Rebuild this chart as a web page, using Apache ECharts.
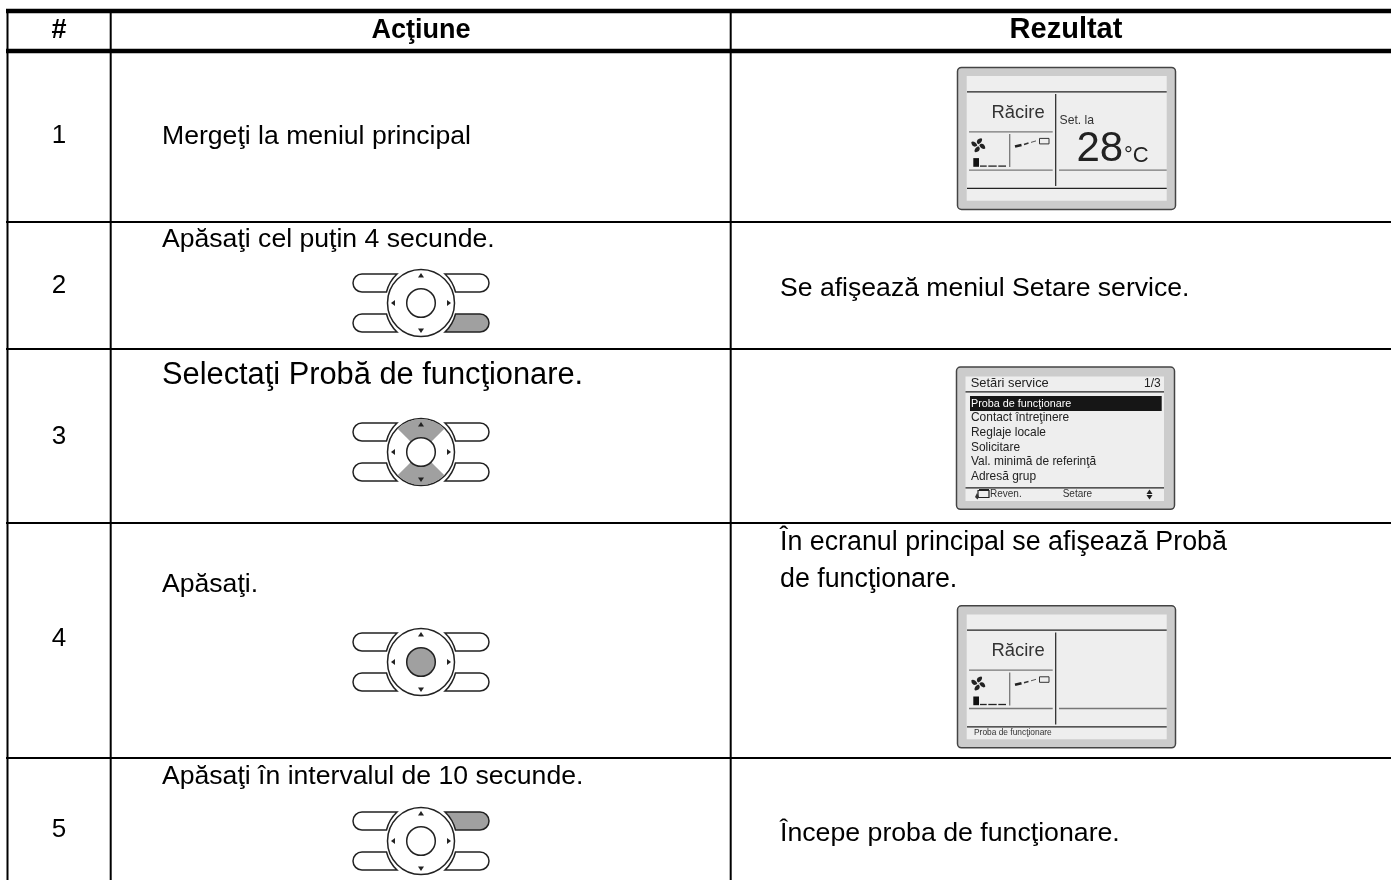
<!DOCTYPE html>
<html><head><meta charset="utf-8">
<style>html,body{margin:0;padding:0;background:#fff}#c{width:1391px;height:880px}</style>
<script src="https://cdn.jsdelivr.net/npm/echarts@6/dist/echarts.min.js"></script>
</head><body><div id="c"></div>
<script>
const columnHeaders = ['#', 'Acţiune', 'Rezultat'];
const rowNumbers = ['1', '2', '3', '4', '5'];
const actionTexts = ['Mergeţi la meniul principal', 'Apăsaţi cel puţin 4 secunde.', 'Selectaţi Probă de funcţionare.', 'Apăsaţi.', 'Apăsaţi în intervalul de 10 secunde.'];
const resultTexts = ['Se afişează meniul Setare service.', 'În ecranul principal se afişează Probă', 'de funcţionare.', 'Începe proba de funcţionare.'];
const screenModeText = 'Răcire';
const screenSetText = 'Set. la';
const screenTemp = '28';
const screenUnit = '°C';
const menuTitle = 'Setări service';
const menuPage = '1/3';
const menuItems = ['Proba de funcţionare', 'Contact întreţinere', 'Reglaje locale', 'Solicitare', 'Val. minimă de referinţă', 'Adresă grup'];
const menuFooter = ['Reven.', 'Setare'];
const statusText = 'Proba de funcţionare';

const FONT = '"Liberation Sans", Arial, sans-serif';
const els = [];
let pathCount = 0;
function T(text, x, y, size, o) {
  o = o || {};
  return { type: 'text', silent: true, style: { x: x, y: y - size * 0.35, text: text, fill: o.fill || '#000',
    font: (o.bold ? 'bold ' : '') + size + 'px ' + FONT, textAlign: o.align || 'left', textVerticalAlign: 'middle', verticalAlign: 'middle' } };
}
function L(x1, y1, x2, y2, w, c) {
  return { type: 'line', silent: true, shape: { x1, y1, x2, y2 }, style: { stroke: c || '#000', lineWidth: w } };
}
function R(x, y, w, h, fill, o) {
  o = o || {};
  return { type: 'rect', silent: true, shape: { x, y, width: w, height: h, r: o.r || 0 }, style: { fill, stroke: o.stroke || null, lineWidth: o.lw || 0 } };
}
function P(d, fill, stroke, lw, extra) {
  const name = 'svgPath' + (pathCount++);
  echarts.graphic.registerShape(name, echarts.graphic.extendPath(d, {}));
  return Object.assign({ type: name, silent: true, style: { fill: fill || 'none', stroke: stroke || null, lineWidth: lw || 0 } }, extra || {});
}

// ---- table rules
const TL = 7, TR = 1391;
[[11, 4.5], [51, 4.5], [222, 2], [349, 2], [523, 2], [758, 2]].forEach(r => els.push(L(TL - 1, r[0], TR, r[0], r[1])));
[7.5, 110.7, 730.7].forEach(x => els.push(L(x, 9, x, 880, 2)));

// ---- header
const headerX = [59, 421, 1066];
const headerSize = [27, 27, 29];
columnHeaders.forEach((h, i) => els.push(T(h, headerX[i], 40, headerSize[i], { bold: true, align: 'center' })));

// ---- numbers
const numY = [145, 295, 446, 648, 839];
rowNumbers.forEach((n, i) => els.push(T(n, 59, numY[i], 26, { align: 'center' })));

// ---- actions
const actY = [146, 249, 386, 594, 786], actSize = [26.6, 26.6, 30.8, 26.6, 26.6];
actionTexts.forEach((a, i) => els.push(T(a, 162, actY[i], actSize[i])));

// ---- results
const resY = [298, 552, 589, 843], resSize = [26.6, 26.8, 26.8, 26.7];
resultTexts.forEach((a, i) => els.push(T(a, 780, resY[i], resSize[i])));

// ---- keypad
function pol(r, deg) { const a = deg * Math.PI / 180; return (r * Math.cos(a)).toFixed(2) + ' ' + (r * Math.sin(a)).toFixed(2); }
function keypad(cy, hi) {
  const ch = [];
  const btn = (sx, sy, on) => {
    const X = v => v * sx, Y = v => v * sy;
    const swTop = (sx * sy > 0) ? 1 : 0;
    const swEnd = (sx * sy > 0) ? 0 : 1;
    const d = 'M' + X(-24) + ' ' + Y(-29) + ' L' + X(-59) + ' ' + Y(-29) +
      ' A9 9 0 0 ' + swEnd + ' ' + X(-59) + ' ' + Y(-11) + ' L' + X(-34.5) + ' ' + Y(-11) +
      ' A37 37 0 0 ' + swTop + ' ' + X(-24) + ' ' + Y(-29) + ' Z';
    ch.push(P(d, on ? '#a0a0a0' : '#fff', '#222', 1.5));
  };
  btn(1, 1, false);
  btn(-1, 1, hi === 'ur');
  btn(1, -1, false);
  btn(-1, -1, hi === 'lr');
  ch.push({ type: 'circle', silent: true, shape: { cx: 0, cy: 0, r: 33.5 }, style: { fill: '#fff', stroke: '#222', lineWidth: 1.5 } });
  if (hi === 'ud') {
    [[225, 315], [45, 135]].forEach(s => {
      const d = 'M' + pol(33, s[0]) + ' A33 33 0 0 1 ' + pol(33, s[1]) + ' L' + pol(14.5, s[1]) + ' A14.5 14.5 0 0 0 ' + pol(14.5, s[0]) + ' Z';
      ch.push(P(d, '#a0a0a0'));
    });
  }
  ch.push({ type: 'circle', silent: true, shape: { cx: 0, cy: 0, r: 14.3 }, style: { fill: hi === 'c' ? '#a0a0a0' : '#fff', stroke: '#222', lineWidth: 1.5 } });
  ch.push(P('M0 -30 L3 -25.5 L-3 -25.5 Z', '#222'));
  ch.push(P('M0 30 L3 25.5 L-3 25.5 Z', '#222'));
  ch.push(P('M-30 0 L-26 -3 L-26 3 Z', '#222'));
  ch.push(P('M30 0 L26 -3 L26 3 Z', '#222'));
  return { type: 'group', x: 421, y: cy, silent: true, children: ch };
}
els.push(keypad(303, 'lr'), keypad(452, 'ud'), keypad(662, 'c'), keypad(841, 'ur'));

// ---- mode screen
function modeScreen(y0, full) {
  const c = [];
  c.push(R(957.5, y0, 218, 142, '#cccccc', { r: 4, stroke: '#444', lw: 1.5 }));
  c.push(R(966.7, y0 + 8.7, 200, 124.7, '#eeeeee'));
  c.push(L(967, y0 + 24.4, 1166.7, y0 + 24.4, 1.2, '#222'));
  c.push(L(967, y0 + 121, 1166.7, y0 + 121, 1.2, '#222'));
  c.push(L(1055.7, y0 + 26.7, 1055.7, y0 + 118.7, 1.2, '#222'));
  c.push(L(969, y0 + 64.4, 1052.7, y0 + 64.4, 1.3, '#777'));
  c.push(L(969, y0 + 102.7, 1052.7, y0 + 102.7, 1.3, '#777'));
  c.push(L(1059, y0 + 102.7, 1166.7, y0 + 102.7, 1.3, '#777'));
  c.push(L(1009.7, y0 + 66.7, 1009.7, y0 + 99.7, 1.3, '#777'));
  c.push(T(screenModeText, 1044.7, y0 + 52, 18.4, { fill: '#333', align: 'right' }));
  // fan
  const fan = [];
  [0, 90, 180, 270].forEach(a => {
    fan.push(P('M0 -1 C-3 -3 -1 -7 3 -7 C5 -6 3 -2 0 -1 Z', '#222', null, 0, { rotation: a * Math.PI / 180 }));
  });
  c.push({ type: 'group', x: 978.3, y: y0 + 77.8, silent: true, children: fan });
  // level bar
  c.push(R(973.3, y0 + 90.7, 5.7, 8.7, '#111'));
  [[980, 986.7], [988.3, 996.7], [998.3, 1006]].forEach(s => c.push(L(s[0], y0 + 98.7, s[1], y0 + 98.7, 1.3, '#222')));
  // airflow
  c.push(L(1015, y0 + 79, 1021.5, y0 + 77.5, 2.6, '#222'));
  c.push(L(1024, y0 + 77, 1028.5, y0 + 75.7, 1.6, '#333'));
  c.push(L(1031, y0 + 75, 1036, y0 + 73.5, 1, '#555'));
  c.push(R(1039.5, y0 + 71, 9.5, 5.5, '#eeeeee', { stroke: '#333', lw: 1 }));
  if (full) {
    c.push(T(screenSetText, 1059.5, y0 + 57.7, 12.2, { fill: '#333' }));
    c.push(T(screenTemp, 1076.5, y0 + 96.7, 42, { fill: '#222' }));
    c.push(T(screenUnit, 1124, y0 + 96.7, 22, { fill: '#222' }));
  } else {
    c.push(T(statusText, 974, y0 + 130.3, 8.4, { fill: '#333' }));
  }
  return c;
}
els.push(...modeScreen(67.4, true));
els.push(...modeScreen(605.8, false));

// ---- menu screen
els.push(R(956.5, 367, 218, 142.3, '#cccccc', { r: 4, stroke: '#444', lw: 1.5 }));
els.push(R(965.5, 376.5, 198.5, 124.5, '#eeeeee'));
els.push(T(menuTitle, 970.7, 388.3, 12.9, { fill: '#222' }));
els.push(T(menuPage, 1160.7, 388.3, 12, { fill: '#222', align: 'right' }));
els.push(L(965.5, 391.8, 1164, 391.8, 1.2, '#222'));
els.push(R(970, 396, 191.7, 15, '#161616'));
const menuY = [407.8, 422.3, 436.8, 451.7, 466, 481];
menuItems.forEach((m, i) => els.push(T(m, 971, menuY[i], i === 0 ? 10.8 : 11.95, { fill: i === 0 ? '#fff' : '#222' })));
els.push(L(965.5, 487.8, 1164, 487.8, 1.2, '#222'));
els.push(T(menuFooter[0], 990, 497.7, 10, { fill: '#333' }));
els.push(T(menuFooter[1], 1062.7, 497.7, 10, { fill: '#333' }));
els.push(R(978, 490.5, 11, 7, '#eeeeee', { stroke: '#222', lw: 1.2 }));
els.push(L(979, 490, 989, 490, 2, '#222'));
els.push(P('M975 497 L977 493 L979 497 L977.5 499.5 Z', '#333'));
els.push(P('M1149.5 489.5 L1152.5 494 L1146.5 494 Z', '#222'));
els.push(P('M1149.5 499.5 L1152.5 495 L1146.5 495 Z', '#222'));

const chart = echarts.init(document.getElementById('c'), null, { renderer: 'canvas' });
chart.setOption({ animation: false, backgroundColor: '#fff', graphic: { elements: els } });
</script></body></html>
